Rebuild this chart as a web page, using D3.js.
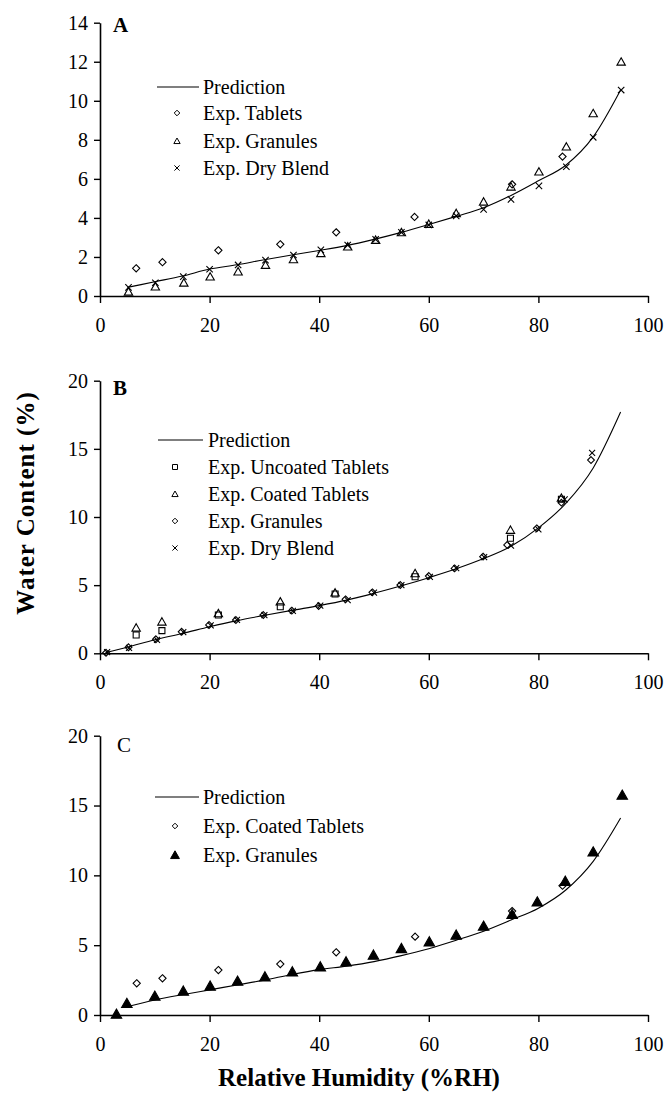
<!DOCTYPE html>
<html><head><meta charset="utf-8">
<script src="https://cdn.jsdelivr.net/npm/d3@7"></script>
<style>
html,body{margin:0;padding:0;background:#fff;}
svg text{font-family:"Liberation Serif","Times New Roman",serif;fill:#000;}
</style></head>
<body>
<svg id="chart" width="664" height="1094"></svg>
<script>
// ---------- DATA ----------
const rhTicks = [0, 20, 40, 60, 80, 100];
const yTicksA = [0, 2, 4, 6, 8, 10, 12, 14];
const yTicksBC = [0, 5, 10, 15, 20];

// Panel A
const predA_rh = [5,10,15,20,25,30,35,40,45,50,55,60,65,70,75,80,85,90,95];
const predA    = [0.44,0.73,1.02,1.38,1.6,1.86,2.1,2.33,2.58,2.9,3.26,3.66,4.08,4.52,5.15,5.9,6.7,8.15,10.55];
const tabA_rh  = [6.6,11.4,21.6,32.9,43.1,57.4,75.2,84.4];
const tabA     = [1.42,1.73,2.34,2.65,3.26,4.05,5.72,7.14];
const granA_rh = [5.2,10.1,15.3,20.1,25.2,30.2,35.3,40.3,45.2,50.3,55,60,65,70,75,80.1,85.1,90,95.1];
const granA    = [0.22,0.48,0.68,0.99,1.25,1.59,1.88,2.19,2.53,2.87,3.26,3.69,4.24,4.83,5.6,6.37,7.65,9.36,12.0];
const dryA_rh  = [5.2,10.1,15.2,20,25.2,30.2,35.3,40.3,45.2,50.3,55,60,65,70,75,80.1,85.1,90,95.1];
const dryA     = [0.44,0.68,0.99,1.37,1.59,1.84,2.1,2.36,2.61,2.9,3.26,3.64,4.1,4.44,4.95,5.64,6.62,8.13,10.55];

// Panel B
const predB_rh = [1,5,10,15,20,25,30,35,40,45,50,55,60,65,70,75,80,85,90,95];
const predB    = [0.05,0.45,1.0,1.45,1.95,2.4,2.78,3.15,3.5,3.9,4.4,4.95,5.55,6.2,6.95,7.85,9.2,11.0,13.6,17.7];
const uncB_rh  = [6.6,11.3,21.6,32.9,42.9,57.5,74.9,84.2];
const uncB     = [1.34,1.66,2.81,3.42,4.35,5.62,8.44,11.3];
const coatB_rh = [6.6,11.3,21.6,32.9,42.9,57.5,74.9,84.2];
const coatB    = [1.88,2.32,2.93,3.79,4.45,5.87,9.05,11.4];
const granB_rh = [1.1,5.2,10.2,14.9,19.9,24.8,29.8,35,39.9,44.8,49.7,54.8,60,64.7,69.9,74.3,79.7,84.2,89.6];
const granB    = [0.04,0.44,1.03,1.58,2.08,2.44,2.81,3.13,3.47,3.96,4.47,5.01,5.67,6.23,7.09,7.95,9.17,11.05,14.18];
const dryB_rh  = [1.3,5.3,10.4,15.2,20.2,25,30,35.2,40.2,45.2,50,55,60.2,65,70.1,75,80,84.8,89.8];
const dryB     = [0.08,0.4,0.98,1.55,2.05,2.45,2.8,3.12,3.5,3.9,4.45,5.0,5.6,6.25,7.05,7.9,9.1,11.3,14.7];

// Panel C
const predC_rh = [4.5,10,15,20,25,30,35,40,45,50,55,60,65,70,75,80,85,90,95];
const predC    = [0.55,1.07,1.45,1.8,2.15,2.5,2.9,3.25,3.5,3.82,4.25,4.75,5.35,6.0,6.8,7.65,8.95,11.0,14.1];
const coatC_rh = [6.7,11.4,21.6,32.9,43.1,57.5,75.2,84.4];
const coatC    = [2.27,2.63,3.22,3.65,4.49,5.61,7.44,9.26];
const granC_rh = [3,4.9,10,15.2,20.1,25.1,30.1,35.1,40.2,44.9,49.9,55,60.1,65,70,75.2,79.8,84.9,90,95.3];
const granC    = [0.07,0.84,1.36,1.72,2.08,2.43,2.74,3.1,3.46,3.82,4.3,4.77,5.25,5.73,6.37,7.21,8.11,9.59,11.69,15.75];

// ---------- DRAW ----------
const svg = d3.select("#chart");
const FONT = 20;
const x = d3.scaleLinear().domain([0, 100]).range([100, 648]);

const markerPath = {
  diamond: s => `M0,${-s}L${s},0L0,${s}L${-s},0Z`,
  square: s => `M${-s},${-s}H${s}V${s}H${-s}Z`,
  triangle: s => `M0,${-s}L${s*1.05},${s*0.85}H${-s*1.05}Z`,
  cross: s => `M${-s},${-s}L${s},${s}M${s},${-s}L${-s},${s}`
};

function drawMarkers(g, xs, ys, y, type, size, filled) {
  g.append("g").selectAll("path").data(xs.map((v, i) => [v, ys[i]])).join("path")
    .attr("transform", d => `translate(${x(d[0])},${y(d[1])})`)
    .attr("d", markerPath[type](size))
    .attr("fill", filled ? "#000" : "none")
    .attr("stroke", "#000").attr("stroke-width", 1.1);
}

function panel(cfg) {
  const y = d3.scaleLinear().domain([0, cfg.ymax]).range([cfg.y0, cfg.ytop]);
  const g = svg.append("g");

  const xa = g.append("g").attr("transform", `translate(0,${cfg.y0})`)
    .call(d3.axisBottom(x).tickValues(rhTicks).tickSizeInner(7).tickSizeOuter(0).tickPadding(15));
  const ya = g.append("g").attr("transform", `translate(100,0)`)
    .call(d3.axisLeft(y).tickValues(cfg.yticks).tickSizeInner(6).tickSizeOuter(0).tickPadding(6));
  [xa, ya].forEach(a => {
    a.select(".domain").attr("stroke", "#000").attr("stroke-width", 1.6);
    a.selectAll(".tick line").attr("stroke", "#000").attr("stroke-width", 1.4);
    a.selectAll(".tick text").style("font-size", FONT + "px")
      .style("font-family", '"Liberation Serif","Times New Roman",serif').attr("fill", "#000");
  });

  // prediction line
  const line = d3.line().x(d => x(d[0])).y(d => y(d[1])).curve(d3.curveMonotoneX);
  g.append("path").datum(cfg.pred[0].map((v, i) => [v, cfg.pred[1][i]]))
    .attr("d", line).attr("fill", "none").attr("stroke", "#000").attr("stroke-width", 1.1);

  cfg.series.forEach(s => drawMarkers(g, s.xs, s.ys, y, s.type, s.size, s.filled));

  // panel letter
  g.append("text").attr("x", cfg.lx).attr("y", cfg.ly).text(cfg.letter)
    .style("font-size", "21px").style("font-weight", cfg.letterWeight);

  // legend
  const L = cfg.legend;
  g.append("line").attr("x1", L.lx1).attr("x2", L.lx2).attr("y1", L.rows[0]).attr("y2", L.rows[0])
    .attr("stroke", "#000").attr("stroke-width", 1.2);
  g.append("text").attr("x", L.tx).attr("y", L.rows[0]).attr("dy", "0.34em")
    .text("Prediction").style("font-size", FONT + "px");
  cfg.series.forEach((s, i) => {
    const ry = L.rows[i + 1];
    g.append("path").attr("transform", `translate(${L.mx},${ry})`)
      .attr("d", markerPath[s.type](s.lsize))
      .attr("fill", s.filled ? "#000" : "none").attr("stroke", "#000").attr("stroke-width", 1);
    g.append("text").attr("x", L.tx).attr("y", ry).attr("dy", "0.34em")
      .text(s.name).style("font-size", FONT + "px");
  });
}

panel({
  ymax: 14, y0: 296, ytop: 22.7, yticks: yTicksA,
  letter: "A", lx: 113, ly: 32, letterWeight: "bold",
  pred: [predA_rh, predA],
  series: [
    {name: "Exp. Tablets", xs: tabA_rh, ys: tabA, type: "diamond", size: 3.6, lsize: 2.8},
    {name: "Exp. Granules", xs: granA_rh, ys: granA, type: "triangle", size: 4, lsize: 3},
    {name: "Exp. Dry Blend", xs: dryA_rh, ys: dryA, type: "cross", size: 3.2, lsize: 2.6}
  ],
  legend: {lx1: 157, lx2: 199, tx: 203, mx: 177, rows: [87, 113, 141, 168]}
});

panel({
  ymax: 20, y0: 653.3, ytop: 380.7, yticks: yTicksBC,
  letter: "B", lx: 113, ly: 395, letterWeight: "bold",
  pred: [predB_rh, predB],
  series: [
    {name: "Exp. Uncoated Tablets", xs: uncB_rh, ys: uncB, type: "square", size: 3, lsize: 2.5},
    {name: "Exp. Coated Tablets", xs: coatB_rh, ys: coatB, type: "triangle", size: 4, lsize: 3},
    {name: "Exp. Granules", xs: granB_rh, ys: granB, type: "diamond", size: 3.4, lsize: 2.8},
    {name: "Exp. Dry Blend", xs: dryB_rh, ys: dryB, type: "cross", size: 3, lsize: 2.6}
  ],
  legend: {lx1: 158, lx2: 203, tx: 208, mx: 175, rows: [440, 467, 494, 521, 548]}
});

panel({
  ymax: 20, y0: 1015, ytop: 735.7, yticks: yTicksBC,
  letter: "C", lx: 117, ly: 752, letterWeight: "normal",
  pred: [predC_rh, predC],
  series: [
    {name: "Exp. Coated Tablets", xs: coatC_rh, ys: coatC, type: "diamond", size: 3.6, lsize: 2.8},
    {name: "Exp. Granules", xs: granC_rh, ys: granC, type: "triangle", size: 5, lsize: 4.2, filled: true}
  ],
  legend: {lx1: 155, lx2: 199, tx: 203, mx: 175, rows: [797, 826, 855]}
});

// axis titles
svg.append("text").attr("transform", "translate(34,503) rotate(-90)")
  .attr("text-anchor", "middle").text("Water Content (%)")
  .style("font-size", "25px").style("font-weight", "bold").style("letter-spacing", "1px");
svg.append("text").attr("x", 359).attr("y", 1086).attr("text-anchor", "middle")
  .text("Relative Humidity (%RH)").style("font-size", "25px").style("font-weight", "bold");
</script>
</body></html>
